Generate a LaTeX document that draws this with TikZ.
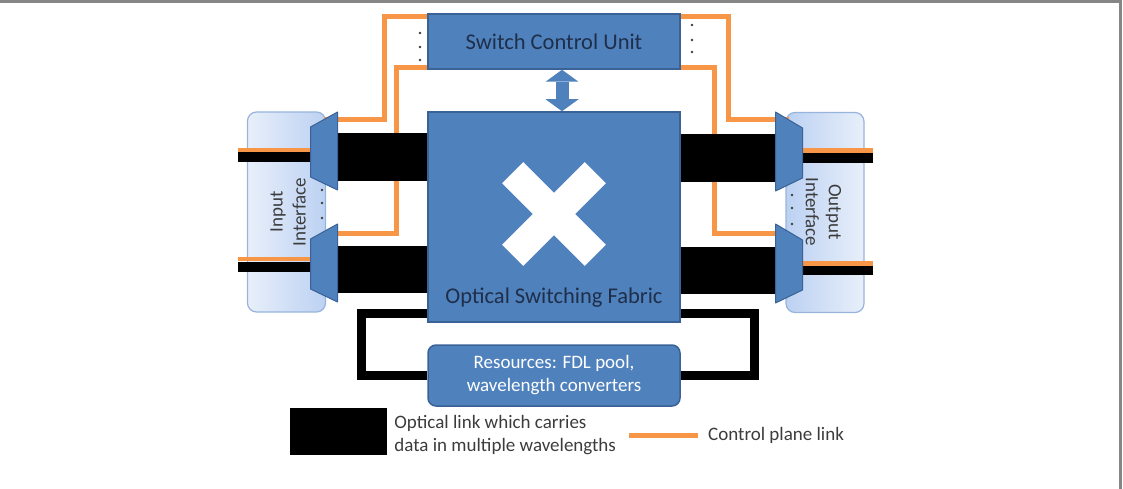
\documentclass[tikz,border=0pt]{standalone}
\usepackage{fontspec}
\setmainfont{Carlito}
\usetikzlibrary{arrows.meta, positioning, calc, backgrounds}

\definecolor{fabricblue}{HTML}{4F81BD}
\definecolor{fabricedge}{HTML}{3A6296}
\definecolor{ctrlorange}{HTML}{F79646}
\definecolor{ifacelight}{HTML}{E8EFFA}
\definecolor{ifacedark}{HTML}{BCD1F2}
\definecolor{ifaceedge}{HTML}{98B4DD}
\definecolor{navytext}{HTML}{1F2F4A}
\definecolor{greytext}{HTML}{3C3C3C}
\definecolor{framegrey}{HTML}{868686}

\pgfdeclarelayer{bg}
\pgfdeclarelayer{links}
\pgfsetlayers{bg,links,main}

\begin{document}
\begin{tikzpicture}[
    x=1pt, y=-1pt,
    >=Stealth,
    block/.style={rectangle, draw=fabricedge, fill=fabricblue, line width=1.5pt,
                  minimum width=252pt, inner sep=0pt, align=center},
    iface/.style={rectangle, rounded corners=9pt, draw=ifaceedge, line width=1.2pt,
                  minimum width=78pt, minimum height=200pt},
    muxfill/.style={fill=fabricblue, draw=fabricedge, line width=1pt, line join=round},
    muxin/.pic={
        \filldraw[muxfill] (-13.5,-24) -- (13.5,-39) -- (13.5,39) -- (-13.5,26) -- cycle;
        \coordinate (-c) at (0,0);
    },
    muxout/.pic={
        \filldraw[muxfill] (13.5,-24) -- (-13.5,-40) -- (-13.5,39) -- (13.5,26) -- cycle;
        \coordinate (-c) at (0,0);
    },
    xarm/.style={rectangle, fill=white, minimum width=117pt, minimum height=30pt, inner sep=0pt},
    title/.style={font=\fontsize{22.5}{26}\selectfont, text=navytext},
    small/.style={font=\fontsize{19}{23}\selectfont},
    ctrl/.style={draw=ctrlorange, line width=5pt},
    ctrlthin/.style={draw=ctrlorange, line width=4.5pt},
    datalink/.style={draw=black, line width=47pt},
    fiber/.style={draw=black, line width=10pt},
    loopline/.style={draw=black, line width=9pt},
    ctlarrow/.style={draw=fabricblue, line width=13pt,
                     {Triangle[width=33pt, length=12pt, line width=0pt]}-{Triangle[width=33pt, length=12pt, line width=0pt]}},
    portdot/.style={fill=greytext},
]

\useasboundingbox (0,0) rectangle (1123,489);

% frame
\draw[framegrey, line width=3pt] (0,1.5) -| (1120,489);

% === Blocks ===

\node[block, minimum height=55pt, title] (scu) at (554,41.5) {Switch Control Unit};
\node[block, minimum height=210pt] (fabric) at (554,217) {};
\node[block, rounded corners=8pt, minimum height=61pt, small, text=white] (res) at (554,375.5)
    {Resources: FDL pool,\\wavelength converters};

% white cross
\node[xarm, rotate=45] (cross-a) at ([yshift=3pt]fabric.center) {};
\node[xarm, rotate=-45] (cross-b) at ([yshift=3pt]fabric.center) {};
\node[title] (fabric-label) at ([yshift=25pt]fabric.south) {Optical Switching Fabric};

% === Interfaces ===

\begin{pgfonlayer}{bg}
\node[iface, left color=ifacelight, right color=ifacedark] (iface-in) at (286.5,212) {};
\node[iface, left color=ifacedark, right color=ifacelight] (iface-out) at (825,212.5) {};
\end{pgfonlayer}

\node[small, text=greytext, rotate=90, align=center] (iface-in-label) at (288,212) {Input\\Interface};
\node[small, text=greytext, rotate=-90, align=center] (iface-out-label) at (823.5,212) {Output\\Interface};

% (de)multiplexers
\pic (mux-i1) at (324,151) {muxin};
\pic (mux-i2) at (324,263) {muxin};
\pic (mux-o1) at (789,152) {muxout};
\pic (mux-o2) at (789,264) {muxout};

\coordinate (bar-i1) at ([yshift=-6pt]mux-i1-c);
\coordinate (bar-i2) at ([yshift=-6pt]mux-i2-c);
\coordinate (bar-o1) at ([yshift=-6pt]mux-o1-c);
\coordinate (bar-o2) at ([yshift=-6pt]mux-o2-c);

% fibre ends
\coordinate (in1) at (238,157);
\coordinate (in2) at (238,267);
\coordinate (out1) at (873,158);
\coordinate (out2) at (873,270);

% === Links ===

\begin{pgfonlayer}{links}
% control plane
\draw[ctrl] ([yshift=-3pt]scu.north west) -- ++(-43,0) |- ([yshift=31pt]mux-i1-c);
\draw[ctrl] ([yshift=2pt]scu.south west) -- ++(-31,0) |- ([yshift=30pt]mux-i2-c);
\draw[ctrl] ([yshift=-3pt]scu.north east) -- ++(48,0) |- ([yshift=32pt]mux-o1-c);
\draw[ctrl] ([yshift=2pt]scu.south east) -- ++(34,0) |- ([yshift=31pt]mux-o2-c);

% input / output fibres
\draw[fiber] (in1) -- (in1 -| mux-i1-c);
\draw[fiber] (in2) -- (in2 -| mux-i2-c);
\draw[fiber] (out1) -- (out1 -| mux-o1-c);
\draw[fiber] (out2) -- (out2 -| mux-o2-c);
\draw[ctrlthin] ([yshift=7pt]in1) -- ([yshift=7pt]in1 -| mux-i1-c);
\draw[ctrlthin] ([yshift=8pt]in2) -- ([yshift=8pt]in2 -| mux-i2-c);
\draw[ctrlthin] ([yshift=7.5pt]out1) -- ([yshift=7.5pt]out1 -| mux-o1-c);
\draw[ctrlthin] ([yshift=6.5pt]out2) -- ([yshift=6.5pt]out2 -| mux-o2-c);

% data links into the fabric
\draw[datalink] (bar-i1) -- (bar-i1 -| fabric.west);
\draw[datalink] (bar-i2) -- (bar-i2 -| fabric.west);
\draw[datalink] (bar-o1) -- (bar-o1 -| fabric.east);
\draw[datalink] (bar-o2) -- (bar-o2 -| fabric.east);

% loop through the resources
\draw[loopline] ([yshift=9pt]fabric.south west) -- ++(-66,0) |- (res.west);
\draw[loopline] ([yshift=9pt]fabric.south east) -- ++(74,0) |- (res.east);
\end{pgfonlayer}

\draw[ctlarrow] ([xshift=8pt]scu.south) -- ([xshift=8pt]fabric.north);

% port dots
\foreach \y in {33,47,60} \fill[portdot] (420,\y) circle (1.3pt);
\foreach \y in {25,40,52} \fill[portdot] (692,\y) circle (1.3pt);
\foreach \y in {190,203,218} \fill[portdot] (322,\y) circle (1.3pt);
\foreach \y in {195,208,224} \fill[portdot] (792,\y) circle (1.3pt);

% === Legend ===

\node[fill=black, minimum width=97pt, minimum height=47pt, inner sep=0pt] (leg-link) at (338.5,431.5) {};
\node[small, text=greytext, align=left, right=7pt of leg-link, yshift=-4pt, inner sep=0pt] (leg-link-text)
    {Optical link which carries\\data in multiple wavelengths};
\node[small, text=greytext, anchor=west, inner sep=0pt] (leg-ctrl-text) at (708,435) {Control plane link};
\draw[ctrl] ([xshift=-10pt]leg-ctrl-text.west) -- ++(-69,0);

\end{tikzpicture}
\end{document}
